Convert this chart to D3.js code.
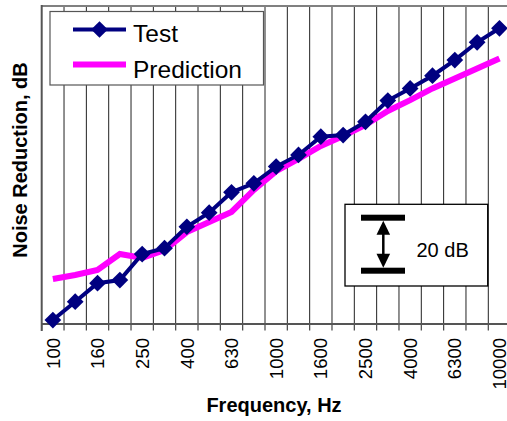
<!DOCTYPE html>
<html>
<head>
<meta charset="utf-8">
<script src="https://cdn.jsdelivr.net/npm/d3@7"></script>
<style>
  html, body { margin: 0; padding: 0; background: #fff; }
  svg { display: block; font-family: "Liberation Sans", Arial, sans-serif; }
</style>
</head>
<body>
<svg id="chart" width="507" height="421"></svg>
<script>
// One-third-octave band centre frequencies, Hz
const bands = ["100","125","160","200","250","315","400","500","630","800","1000",
               "1250","1600","2000","2500","3150","4000","5000","6300","8000","10000"];
// Every other band is labelled on the axis
const tickLabels = ["100","160","250","400","630","1000","1600","2500","4000","6300","10000"];
// Noise reduction, dB (relative scale)
const testValues = [1.5, 8.4, 15.4, 16.6, 26.4, 28.6, 36.7, 42.0, 49.7, 53.1, 59.4,
                    63.8, 70.7, 71.3, 76.3, 84.3, 88.9, 93.7, 99.6, 106.3, 111.6];
const predictionValues = [17.0, 18.5, 20.4, 26.4, 24.9, 27.9, 34.7, 38.5, 42.3, 50.6, 57.7,
                          62.3, 67.2, 70.9, 75.1, 80.4, 84.5, 88.9, 92.6, 96.4, 100.2];
const seriesNames = ["Test", "Prediction"];
const scaleBarDb = 20;

const svg = d3.select("#chart");
const plotLeft = 41.7, plotTop = 6, plotBottom = 324, bandW = 22.33;
const plotRight = plotLeft + bands.length * bandW;

const x = d3.scaleBand().domain(bands).range([plotLeft, plotRight]).padding(0);
const y = d3.scaleLinear().domain([0, 120]).range([plotBottom, plotTop]);
const cx = d => x(d) + x.bandwidth() / 2;

// vertical grid lines at band boundaries
svg.append("g").selectAll("line")
  .data(bands.slice(1))
  .join("line")
  .attr("x1", d => x(d)).attr("x2", d => x(d))
  .attr("y1", plotTop).attr("y2", plotBottom)
  .attr("stroke", "#222").attr("stroke-width", 1);

// top frame line
svg.append("line")
  .attr("x1", plotLeft).attr("x2", plotRight).attr("y1", plotTop).attr("y2", plotTop)
  .attr("stroke", "#808080").attr("stroke-width", 2);

// x axis: ticks at band boundaries, labels on alternating bands
const xAxisG = svg.append("g");
xAxisG.selectAll("line.tick")
  .data(bands.concat(["_end"]))
  .join("line")
  .attr("class", "tick")
  .attr("x1", (d, i) => plotLeft + i * x.bandwidth())
  .attr("x2", (d, i) => plotLeft + i * x.bandwidth())
  .attr("y1", plotBottom).attr("y2", plotBottom + 6.5)
  .attr("stroke", "#444").attr("stroke-width", 1.2);
xAxisG.append("line")
  .attr("x1", plotLeft).attr("x2", plotRight).attr("y1", plotBottom).attr("y2", plotBottom)
  .attr("stroke", "#555").attr("stroke-width", 2);
xAxisG.selectAll("text")
  .data(tickLabels)
  .join("text")
  .attr("transform", d => `translate(${cx(d)},${plotBottom + 14}) rotate(-90)`)
  .attr("text-anchor", "end")
  .attr("dy", "0.36em")
  .attr("font-size", 18.5)
  .attr("fill", "#000")
  .text(d => d);

// y axis line (no tick labels)
svg.append("line")
  .attr("x1", plotLeft).attr("x2", plotLeft).attr("y1", plotTop - 1).attr("y2", plotBottom + 7)
  .attr("stroke", "#555").attr("stroke-width", 2);

// axis titles
svg.append("text")
  .attr("x", 274).attr("y", 412)
  .attr("text-anchor", "middle")
  .attr("font-size", 20).attr("font-weight", "bold")
  .text("Frequency, Hz");
svg.append("text")
  .attr("transform", "translate(27,160) rotate(-90)")
  .attr("text-anchor", "middle")
  .attr("font-size", 20).attr("font-weight", "bold")
  .text("Noise Reduction, dB");

// series lines
const line = d3.line().x((d, i) => cx(bands[i])).y(d => y(d));
svg.append("path").datum(predictionValues)
  .attr("d", line).attr("fill", "none")
  .attr("stroke", "#FF00FF").attr("stroke-width", 6).attr("stroke-linejoin", "miter");
svg.append("path").datum(testValues)
  .attr("d", line).attr("fill", "none")
  .attr("stroke", "#000080").attr("stroke-width", 4);

const diamond = d3.symbol().type(d3.symbolSquare).size(140);
svg.append("g").selectAll("path")
  .data(testValues)
  .join("path")
  .attr("transform", (d, i) => `translate(${cx(bands[i])},${y(d)}) rotate(45)`)
  .attr("d", diamond)
  .attr("fill", "#000080");

// legend
const lg = svg.append("g");
lg.append("rect")
  .attr("x", 50).attr("y", 11.5).attr("width", 213.5).attr("height", 73.5)
  .attr("fill", "#fff").attr("stroke", "#555").attr("stroke-width", 1.2);
lg.append("line").attr("x1", 73).attr("x2", 126).attr("y1", 29.5).attr("y2", 29.5)
  .attr("stroke", "#000080").attr("stroke-width", 4);
lg.append("path").attr("transform", "translate(99.5,29.5) rotate(45)")
  .attr("d", diamond).attr("fill", "#000080");
lg.append("line").attr("x1", 73).attr("x2", 126).attr("y1", 64.5).attr("y2", 64.5)
  .attr("stroke", "#FF00FF").attr("stroke-width", 6);
lg.selectAll("text").data(seriesNames).join("text")
  .attr("x", 133).attr("y", (d, i) => 42 + i * 36)
  .attr("font-size", 24.5).attr("fill", "#000")
  .text(d => d);

// 20 dB scale bar
const sb = svg.append("g");
const barTop = 217.7, barBot = barTop + (y(0) - y(scaleBarDb));
sb.append("rect")
  .attr("x", 345).attr("y", 204.3).attr("width", 142.7).attr("height", 81.7)
  .attr("fill", "#fff").attr("stroke", "#000").attr("stroke-width", 1.3);
[barTop, barBot].forEach(yy => {
  sb.append("rect").attr("x", 361).attr("y", yy - 3).attr("width", 44).attr("height", 6).attr("fill", "#000");
});
sb.append("line").attr("x1", 383.3).attr("x2", 383.3)
  .attr("y1", barTop + 10).attr("y2", barBot - 10)
  .attr("stroke", "#000").attr("stroke-width", 2.5);
sb.append("path")
  .attr("d", `M383.3,${barTop + 3}L376.5,${barTop + 17}L390.1,${barTop + 17}Z`)
  .attr("fill", "#000");
sb.append("path")
  .attr("d", `M383.3,${barBot - 3}L376.5,${barBot - 17}L390.1,${barBot - 17}Z`)
  .attr("fill", "#000");
sb.append("text")
  .attr("x", 416.5).attr("y", 256.5)
  .attr("font-size", 20).attr("fill", "#000")
  .text(scaleBarDb + " dB");
</script>
</body>
</html>
